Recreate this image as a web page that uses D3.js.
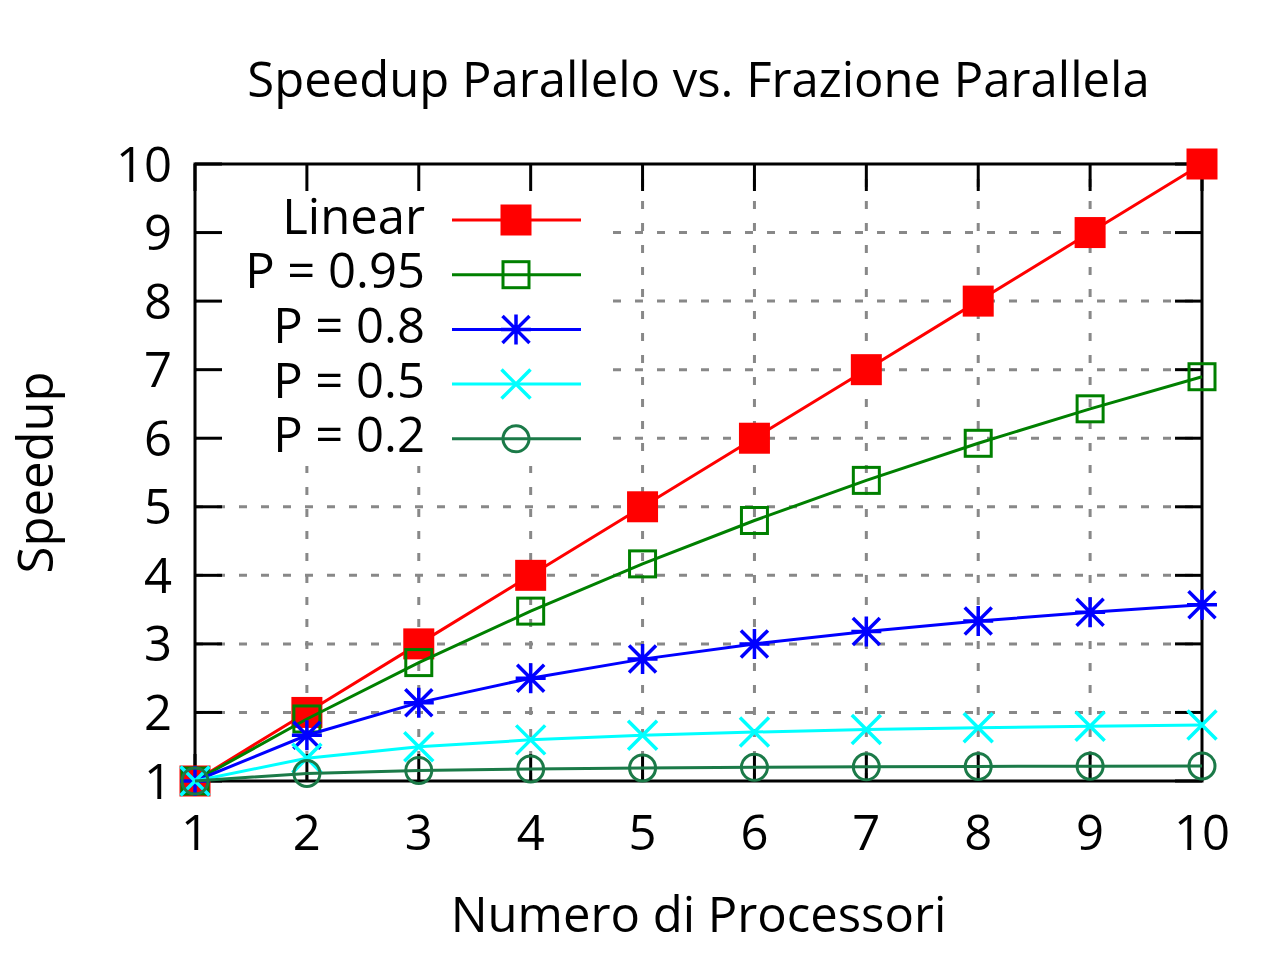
<!DOCTYPE html>
<html>
<head>
<meta charset="utf-8">
<script src="https://d3js.org/d3.v7.min.js"></script>
<style>
  body { margin: 0; background: #fff; }
  svg { display: block; font-family: "Open Sans", sans-serif; }
</style>
</head>
<body>
<script>
// processors on the x axis
var processors = [1, 2, 3, 4, 5, 6, 7, 8, 9, 10];

// speedup, one array per series
var linearSpeedup = [1, 2, 3, 4, 5, 6, 7, 8, 9, 10];
var speedupP095 = [1, 1.905, 2.727, 3.478, 4.167, 4.8, 5.385, 5.926, 6.429, 6.897];
var speedupP08 = [1, 1.667, 2.143, 2.5, 2.778, 3.0, 3.182, 3.333, 3.462, 3.571];
var speedupP05 = [1, 1.333, 1.5, 1.6, 1.667, 1.714, 1.75, 1.778, 1.8, 1.818];
var speedupP02 = [1, 1.111, 1.154, 1.176, 1.19, 1.2, 1.207, 1.212, 1.216, 1.22];

var seriesNames = ["Linear", "P = 0.95", "P = 0.8", "P = 0.5", "P = 0.2"];
var xTicks = [1, 2, 3, 4, 5, 6, 7, 8, 9, 10];
var yTicks = [1, 2, 3, 4, 5, 6, 7, 8, 9, 10];

var titleText = "Speedup Parallelo vs. Frazione Parallela";
var xLabel = "Numero di Processori";
var yLabel = "Speedup";

// size variables (plotTop, not top: window.top is taken)
var w = 1280,
    h = 959,
    plotLeft = 195,
    plotRight = 1202,
    plotTop = 164,
    plotBottom = 781,
    tickLen = 27,
    fontSize = 49;

var series = [
  { name: seriesNames[0], values: linearSpeedup, color: "#ff0000", marker: "filledSquare" },
  { name: seriesNames[1], values: speedupP095, color: "#008000", marker: "square" },
  { name: seriesNames[2], values: speedupP08, color: "#0000ff", marker: "star" },
  { name: seriesNames[3], values: speedupP05, color: "#00ffff", marker: "cross" },
  { name: seriesNames[4], values: speedupP02, color: "#1b7a48", marker: "circle" }
];

var xScale = d3.scaleLinear().domain([1, 10]).range([plotLeft, plotRight]);
var yScale = d3.scaleLinear().domain([1, 10]).range([plotBottom, plotTop]);

var svg = d3.select("body")
            .append("svg")
            .attr("width", w)
            .attr("height", h);

// grid
var grid = svg.append("g")
              .attr("stroke", "#888888")
              .attr("stroke-width", 3)
              .attr("stroke-dasharray", "8,14");

grid.selectAll(".hgrid")
    .data(yTicks.slice(1, -1))
    .enter()
    .append("line")
    .attr("x1", plotLeft)
    .attr("x2", plotRight)
    .attr("y1", d => yScale(d))
    .attr("y2", d => yScale(d));

grid.selectAll(".vgrid")
    .data(xTicks.slice(1, -1))
    .enter()
    .append("line")
    .attr("x1", d => xScale(d))
    .attr("x2", d => xScale(d))
    .attr("y1", plotBottom)
    .attr("y2", plotTop);

// opaque legend box hides the grid behind it
svg.append("rect")
   .attr("x", plotLeft + 2)
   .attr("y", plotTop + 2)
   .attr("width", 602 - plotLeft - 2)
   .attr("height", 466 - plotTop - 2)
   .attr("fill", "#fff");

// border and ticks on all four sides
var axes = svg.append("g").attr("stroke", "#000").attr("stroke-width", 3);

axes.append("rect")
    .attr("x", plotLeft)
    .attr("y", plotTop)
    .attr("width", plotRight - plotLeft)
    .attr("height", plotBottom - plotTop)
    .attr("fill", "none");

xTicks.forEach(function(t) {
  var x = xScale(t);
  axes.append("line").attr("x1", x).attr("x2", x).attr("y1", plotBottom).attr("y2", plotBottom - tickLen);
  axes.append("line").attr("x1", x).attr("x2", x).attr("y1", plotTop).attr("y2", plotTop + tickLen);
});
yTicks.forEach(function(t) {
  var y = yScale(t);
  axes.append("line").attr("x1", plotLeft).attr("x2", plotLeft + tickLen).attr("y1", y).attr("y2", y);
  axes.append("line").attr("x1", plotRight).attr("x2", plotRight - tickLen).attr("y1", y).attr("y2", y);
});

// tick labels
svg.selectAll(".xlabel")
   .data(xTicks)
   .enter()
   .append("text")
   .attr("x", d => xScale(d))
   .attr("y", plotBottom + 69)
   .attr("text-anchor", "middle")
   .attr("font-size", fontSize)
   .text(d => d);

svg.selectAll(".ylabel")
   .data(yTicks)
   .enter()
   .append("text")
   .attr("x", plotLeft - 23)
   .attr("y", d => yScale(d) + 17.5)
   .attr("text-anchor", "end")
   .attr("font-size", fontSize)
   .text(d => d);

// marker drawing
function drawMarker(g, type, color) {
  if (type === "filledSquare") {
    g.append("rect").attr("x", -15.5).attr("y", -15.5).attr("width", 31).attr("height", 31)
     .attr("fill", color);
  } else if (type === "square") {
    g.append("rect").attr("x", -13).attr("y", -13).attr("width", 26).attr("height", 26)
     .attr("fill", "none").attr("stroke", color).attr("stroke-width", 3);
  } else if (type === "star") {
    g.append("path").attr("d", "M-15,0H15M0,-15V15M-13.5,-13.5L13.5,13.5M-13.5,13.5L13.5,-13.5")
     .attr("stroke", color).attr("stroke-width", 3.5);
  } else if (type === "cross") {
    g.append("path").attr("d", "M-14.5,-14.5L14.5,14.5M-14.5,14.5L14.5,-14.5")
     .attr("stroke", color).attr("stroke-width", 3.5);
  } else if (type === "circle") {
    g.append("circle").attr("r", 13).attr("fill", "none")
     .attr("stroke", color).attr("stroke-width", 3);
  }
}

var line = d3.line()
             .x((d, i) => xScale(processors[i]))
             .y(d => yScale(d));

// data lines and points
series.forEach(function(s) {
  svg.append("path")
     .datum(s.values)
     .attr("d", line)
     .attr("fill", "none")
     .attr("stroke", s.color)
     .attr("stroke-width", 3);

  s.values.forEach(function(v, i) {
    var g = svg.append("g")
               .attr("transform", "translate(" + xScale(processors[i]) + "," + yScale(v) + ")");
    drawMarker(g, s.marker, s.color);
  });
});

// legend
var legendX = 425,
    legendY = 220,
    legendStep = 54.7;

series.forEach(function(s, i) {
  var y = legendY + i * legendStep;
  svg.append("text")
     .attr("x", legendX)
     .attr("y", y + 13.5)
     .attr("text-anchor", "end")
     .attr("font-size", fontSize)
     .text(s.name);
  svg.append("line")
     .attr("x1", 452)
     .attr("x2", 581)
     .attr("y1", y)
     .attr("y2", y)
     .attr("stroke", s.color)
     .attr("stroke-width", 3);
  var g = svg.append("g").attr("transform", "translate(516," + y + ")");
  drawMarker(g, s.marker, s.color);
});

// title and axis labels
svg.append("text")
   .attr("x", (plotLeft + plotRight) / 2)
   .attr("y", 97)
   .attr("text-anchor", "middle")
   .attr("font-size", fontSize)
   .text(titleText);

svg.append("text")
   .attr("x", (plotLeft + plotRight) / 2)
   .attr("y", 932)
   .attr("text-anchor", "middle")
   .attr("font-size", fontSize)
   .text(xLabel);

svg.append("text")
   .attr("transform", "translate(53," + (plotTop + plotBottom) / 2 + ") rotate(-90)")
   .attr("text-anchor", "middle")
   .attr("font-size", fontSize)
   .text(yLabel);
</script>
</body>
</html>
